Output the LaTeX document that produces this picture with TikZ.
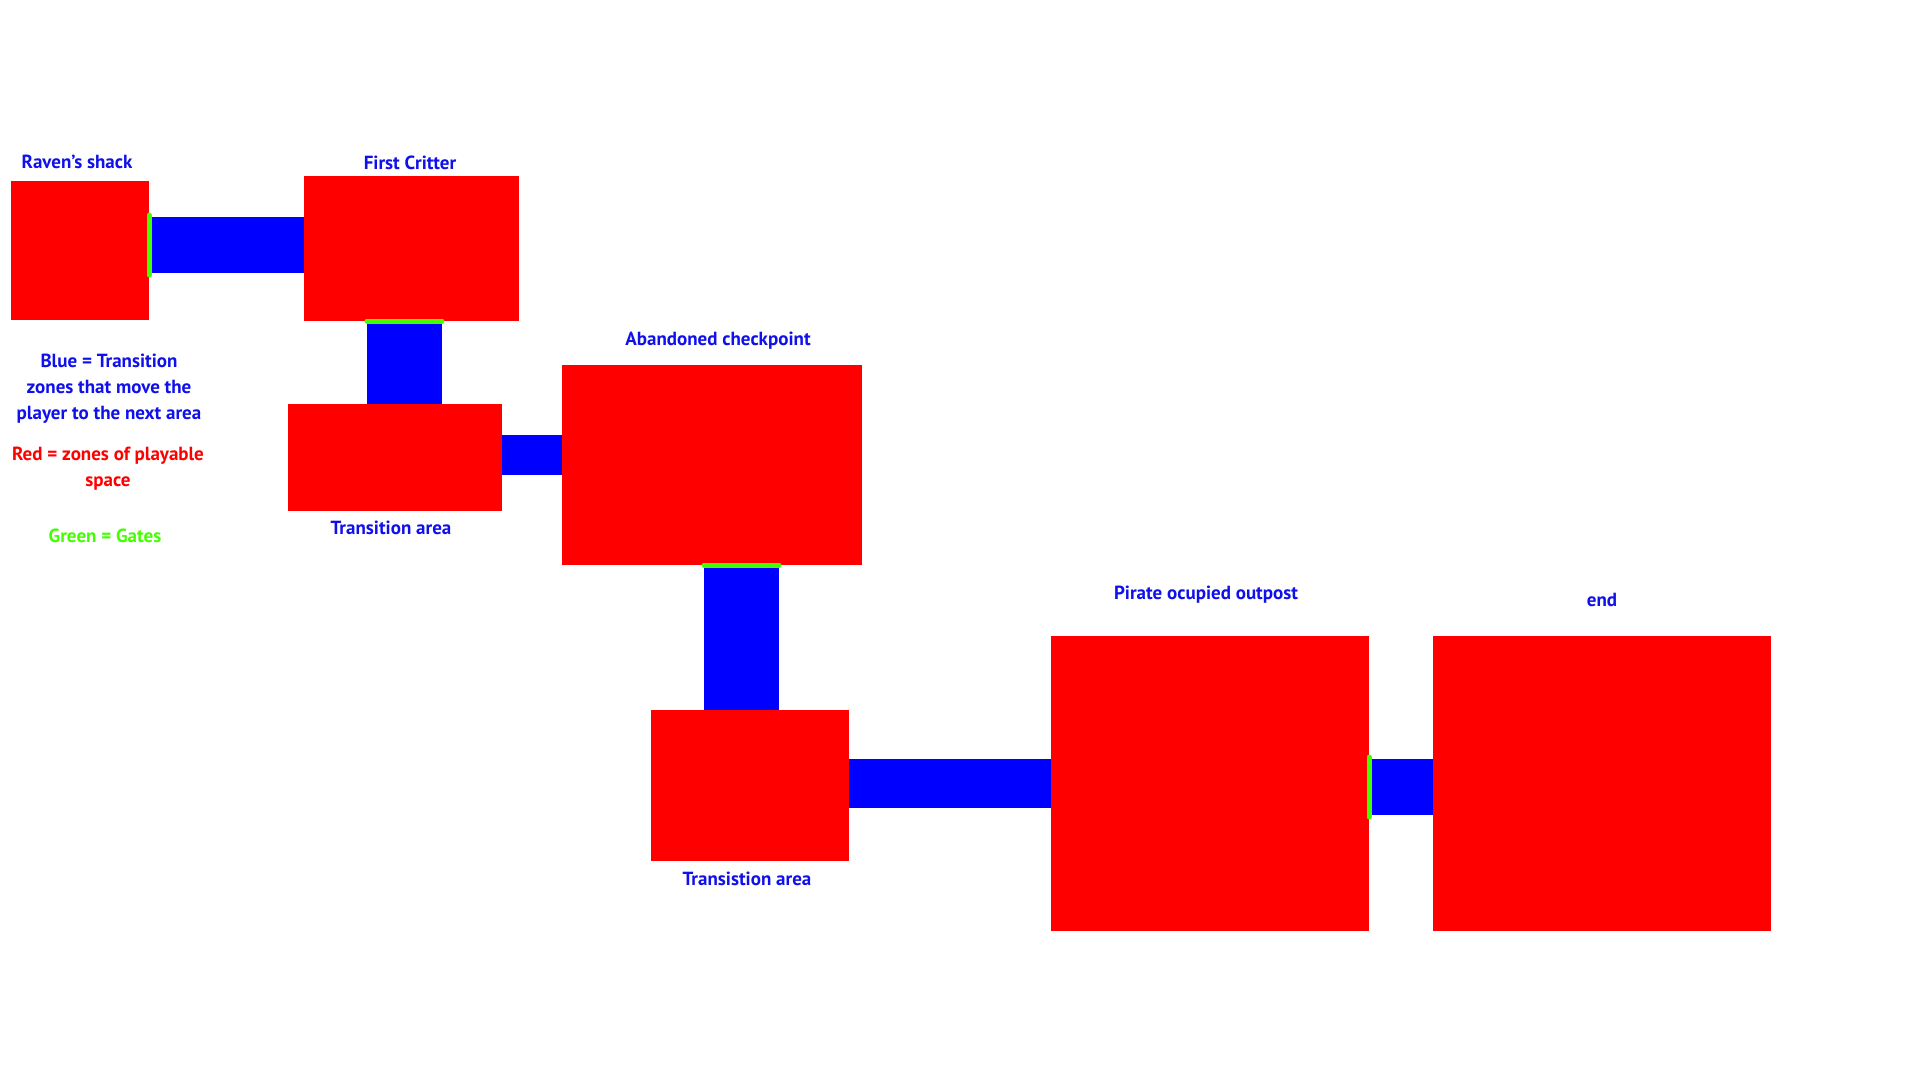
\documentclass[tikz,border=0pt]{standalone}
\usepackage{fontspec}
\setmainfont{PT Sans}
\usetikzlibrary{fit}
\definecolor{roomred}{RGB}{255, 0, 0}
\definecolor{zoneblue}{RGB}{0, 0, 255}
\definecolor{gategreen}{RGB}{68, 255, 0}
\definecolor{textblue}{RGB}{16, 16, 235}

\begin{document}
\begin{tikzpicture}[
  x=1pt, y=-1pt,
  room/.style={
    fill=roomred,
    inner sep=0pt,
    outer sep=0pt
  },
  zone/.style={
    fill=zoneblue,
    inner sep=0pt,
    outer sep=0pt
  },
  gate/.style={
    draw=gategreen,
    line width=5pt,
    line cap=round
  },
  tag/.style={
    text=textblue,
    inner sep=0pt,
    font=\fontsize{19}{26}\selectfont\bfseries
  },
  key/.style={
    inner sep=0pt,
    align=center,
    font=\fontsize{19}{26}\selectfont\bfseries
  }
]
  \useasboundingbox[fill=white] (0,0) rectangle (1920,1080);

  % Transition zones
  \node[zone, fit={(149,217) (305,273)}] (z1) {};
  \node[zone, fit={(367,321) (442,404)}] (z2) {};
  \node[zone, fit={(500,435) (562,475)}] (z3) {};
  \node[zone, fit={(704,565) (779,710)}] (z4) {};
  \node[zone, fit={(849,759) (1051,808)}] (z5) {};
  \node[zone, fit={(1369,759) (1434,815)}] (z6) {};

  % Playable rooms
  \node[room, fit={(11,181) (149,320)}] (raven) {};
  \node[room, fit={(304,176) (519,321)}] (critter) {};
  \node[room, fit={(288,404) (502,511)}] (trans1) {};
  \node[room, fit={(562,365) (862,565)}] (checkpoint) {};
  \node[room, fit={(651,710) (849,861)}] (trans2) {};
  \node[room, fit={(1051,636) (1369,931)}] (outpost) {};
  \node[room, fit={(1433,636) (1771,931)}] (finish) {};

  % Gates
  \draw[gate] ([yshift=2pt]z1.north west) -- ([yshift=-2pt]z1.south west);
  \draw[gate] (z2.north west) -- (z2.north east);
  \draw[gate] (z4.north west) -- (z4.north east);
  \draw[gate] ([yshift=2pt]z6.north west) -- ([yshift=-2pt]z6.south west);

  % Room names
  \node[tag] (l1) at (77,162) {Raven's shack};
  \node[tag] (l2) at (410,163) {First Critter};
  \node[tag] (l3) at (391,528) {Transition area};
  \node[tag] (l4) at (718,341) {Abandoned checkpoint};
  \node[tag] (l5) at (747,879) {Transistion area};
  \node[tag] (l6) at (1206,595) {Pirate ocupied outpost};
  \node[tag] (l7) at (1602,600) {end};

  % Legend
  \node[key, text=textblue] (k1) at (109,389) {Blue = Transition\\zones that move the\\player to the next area};
  \node[key, text=roomred] (k2) at (108,469) {Red = zones of playable\\space};
  \node[key, text=gategreen] (k3) at (105,536) {Green = Gates};

\end{tikzpicture}
\end{document}
